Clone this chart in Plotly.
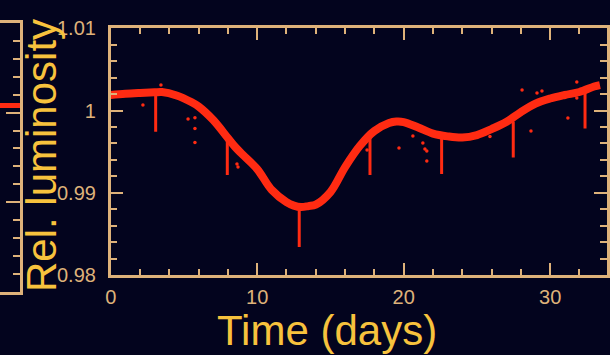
import plotly.graph_objects as go

W, H = 610, 355

BG = "#03041e"
FRAME = "#deb27a"
TITLE = "#f7c23d"
RED = "#ff2b12"

# Smoothed stellar variability: time (days) vs relative luminosity
curve_t = [0, 1, 2, 3, 3.5, 4.5, 5.5, 6, 7, 8, 8.5, 9, 10, 11, 12, 12.5, 13,
           13.5, 14, 15, 16, 17, 18, 19, 19.5, 20, 21, 22, 23, 24, 25, 26, 27,
           28, 29, 30, 31, 32, 33, 33.4]
curve_v = [1.00189, 1.00203, 1.00213, 1.00221, 1.00225, 1.00183, 1.00103,
           1.00049, 0.99884, 0.99665, 0.99556, 0.99465, 0.99288, 0.99033,
           0.98886, 0.98844, 0.98826, 0.98838, 0.98856, 0.99008, 0.99312,
           0.99568, 0.99751, 0.99848, 0.99866, 0.99860, 0.99793, 0.99720,
           0.99686, 0.99671, 0.99702, 0.99775, 0.99860, 0.99982, 1.00085,
           1.00146, 1.00189, 1.00225, 1.00292, 1.00310]

# Transit events: mid-time, flux just outside transit, flux at the bottom
transit_t = [3.07, 7.96, 12.87, 17.70, 22.59, 27.48, 32.38]
transit_top = [1.00221, 0.99670, 0.98828, 0.99698, 0.99693, 0.99865, 1.00225]
transit_bottom = [0.99742, 0.99215, 0.98342, 0.99215, 0.99227, 0.99430, 0.99783]

# Isolated outlying measurements
outlier_t = [3.43, 2.20, 5.28, 5.75, 5.75, 5.75, 8.62, 8.69, 17.50, 19.68,
             20.63, 21.31, 21.45, 21.58, 21.58, 25.89, 28.08, 29.10, 29.44,
             28.69, 31.21, 31.82, 31.82]
outlier_v = [1.00310, 1.00067, 0.99897, 0.99912, 0.99783, 0.99611, 0.99349,
             0.99312, 0.99519, 0.99544, 0.99690, 0.99605, 0.99531, 0.99507,
             0.99385, 0.99684, 1.00250, 1.00213, 1.00237, 0.99750, 0.99909,
             1.00347, 1.00152]

# Neighbouring panel (only its right edge is in view)
side_t = [30, 31, 32, 33, 34]
side_v = [1.00081, 1.00081, 1.00081, 1.00081, 1.00081]

x_ticks = [0, 10, 20, 30]
y_ticks = [0.98, 0.99, 1.00, 1.01]
y_tick_text = ["0.98", "0.99", "1", "1.01"]

dip_x, dip_y = [], []
for t, top, bot in zip(transit_t, transit_top, transit_bottom):
    dip_x += [t, t, None]
    dip_y += [top, bot, None]

fig = go.Figure()

fig.add_trace(go.Scatter(x=dip_x, y=dip_y, mode="lines",
                         line=dict(color=RED, width=3), hoverinfo="skip"))
fig.add_trace(go.Scatter(x=curve_t, y=curve_v, mode="lines",
                         line=dict(color=RED, width=8, shape="spline", smoothing=1.0)))
fig.add_trace(go.Scatter(x=outlier_t, y=outlier_v, mode="markers",
                         marker=dict(color=RED, size=3.5, line=dict(width=0))))
fig.add_trace(go.Scatter(x=side_t, y=side_v, mode="lines", xaxis="x2", yaxis="y2",
                         line=dict(color=RED, width=5)))

tickfont = dict(family="Liberation Sans, Arial, sans-serif", size=20, color=FRAME)

fig.update_layout(
    width=W, height=H,
    margin=dict(l=0, r=0, t=0, b=0, pad=0, autoexpand=False),
    paper_bgcolor=BG, plot_bgcolor=BG,
    showlegend=False,
    xaxis=dict(
        domain=[110.7 / W, 607 / W], range=[0, 33.88], automargin=False,
        tickvals=x_ticks, ticks="inside", ticklen=12, tickwidth=2, tickcolor=FRAME,
        minor=dict(dtick=2, tick0=0, ticks="inside", ticklen=6, tickwidth=2, tickcolor=FRAME),
        showline=True, linecolor=FRAME, linewidth=2.5, mirror="ticks",
        showgrid=False, zeroline=False, tickfont=tickfont, ticklabelstandoff=2,
    ),
    yaxis=dict(
        domain=[(H - 275) / H, (H - 28.3) / H], range=[0.98, 1.01], automargin=False,
        tickvals=y_ticks, ticktext=y_tick_text,
        ticks="inside", ticklen=13, tickwidth=2, tickcolor=FRAME,
        minor=dict(dtick=0.002, tick0=0.98, ticks="inside", ticklen=7, tickwidth=2, tickcolor=FRAME),
        showline=True, linecolor=FRAME, linewidth=2.5, mirror="ticks",
        showgrid=False, zeroline=False, tickfont=tickfont, ticklabelstandoff=8,
    ),
    xaxis2=dict(
        domain=[0, 20 / W], range=[30, 34], anchor="y2", automargin=False,
        showline=True, linecolor=FRAME, linewidth=2.5, mirror=True,
        ticks="", showticklabels=False, showgrid=False, zeroline=False,
    ),
    yaxis2=dict(
        domain=[(H - 291.5) / H, (H - 23.3) / H], range=[0.98, 1.01], anchor="x2",
        automargin=False,
        side="right", showline=True, linecolor=FRAME, linewidth=2.5,
        tickvals=y_ticks, ticks="inside", ticklen=14, tickwidth=2, tickcolor=FRAME,
        minor=dict(dtick=0.002, tick0=0.98, ticks="inside", ticklen=7, tickwidth=2, tickcolor=FRAME),
        showticklabels=False, showgrid=False, zeroline=False,
    ),
    annotations=[
        dict(text="Rel. luminosity", textangle=-90, xref="paper", yref="paper",
             x=41 / W, y=(H - 156) / H, xanchor="center", yanchor="middle",
             showarrow=False,
             font=dict(family="Liberation Sans, Arial, sans-serif", size=42, color=TITLE)),
        dict(text="Time (days)", xref="paper", yref="paper",
             x=327 / W, y=(H - 330) / H, xanchor="center", yanchor="middle",
             showarrow=False,
             font=dict(family="Liberation Sans, Arial, sans-serif", size=42, color=TITLE)),
    ],
)

fig.write_html("out.html", config={"displayModeBar": False})
